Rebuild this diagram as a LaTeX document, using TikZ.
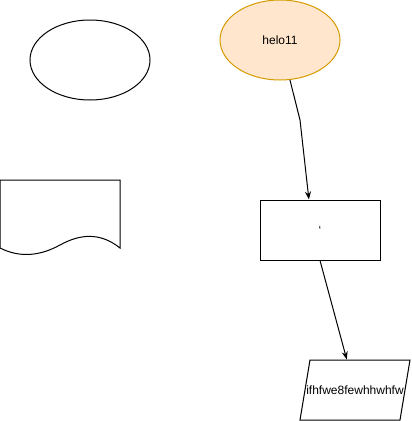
\documentclass[tikz,border=0pt]{standalone}
\usepackage{fontspec}
\setmainfont{Liberation Sans}
\usetikzlibrary{shapes.geometric,arrows.meta}
\definecolor{orangefill}{HTML}{ffe6cc}
\definecolor{orangeline}{HTML}{d79b00}

\begin{document}
\begin{tikzpicture}[x=0.75pt,y=-0.75pt,line width=0.75pt,font=\fontsize{9}{11}\selectfont,
                    plainellipse/.style={draw,ellipse,inner sep=0pt,minimum width=90pt,minimum height=60pt},
                    procbox/.style={draw,rectangle,inner sep=0pt,minimum width=90pt,minimum height=45pt},
                    iobox/.style={rectangle,inner sep=0pt,minimum width=82.5pt,minimum height=45pt},
                    flow/.style={-{Stealth[length=6pt,width=4.5pt]}}]
                    \useasboundingbox (0,0) rectangle (411,421);
                    
                    \node[plainellipse] (blank) at (90,60) {}; % empty ellipse
                    
                    \node[plainellipse,fill=orangefill,draw=orangeline] (helo) at (280,40) {helo11};
                    
                    \draw (0,180) -- (120,180) -- (120,248)
                    .. controls (100,232) and (80,234) .. (60,245)
                    .. controls (40,256) and (20,258) .. (0,248) -- cycle; % document
                    
                    \node[procbox] (box) at (320,230) {`};
                    
                    \draw (310,360) -- (410,360) -- (400,420) -- (300,420) -- cycle; % data
                    \node[iobox] (io) at (355,390) {ifhfwe8fewhhwhfw};
                    
                    \coordinate (bend) at (300,120);
                    \draw[flow] (helo.-76) -- (bend) -- (box.110);
                    
                    \draw[flow] (box.south) -- (io);
                \end{tikzpicture}
\end{document}
